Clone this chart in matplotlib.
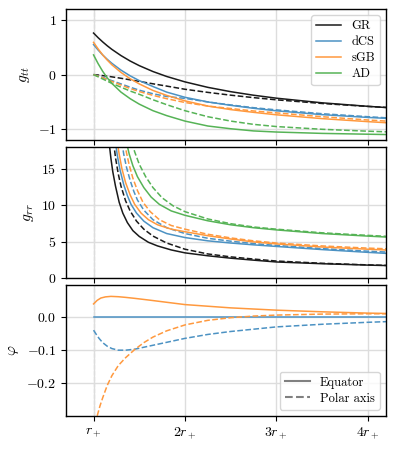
import matplotlib
matplotlib.use("Agg")
import matplotlib.pyplot as plt
from matplotlib.lines import Line2D

plt.rcParams['font.family'] = 'serif'
plt.rcParams['font.serif'] = ['cmr10']
plt.rcParams['mathtext.fontset'] = 'cm'
plt.rcParams['axes.formatter.use_mathtext'] = True

# ---------------- data ----------------
models = ['GR', 'dCS', 'sGB', 'AD']
colors = {'GR': '#1a1a1a', 'dCS': '#4c92c3', 'sGB': '#ff993e', 'AD': '#56b356'}

# g_tt, shared radial grid (in units of r_+)
r_tt = [1.0, 1.05, 1.1, 1.15, 1.2, 1.3, 1.4, 1.5, 1.65, 1.8, 2.0, 2.25, 2.5, 2.75, 3.0, 3.5, 4.0, 4.2]
gtt_eq = {
    'GR':  [0.76, 0.675, 0.598, 0.527, 0.462, 0.348, 0.249, 0.164, 0.056, -0.034, -0.133,
            -0.233, -0.312, -0.377, -0.431, -0.516, -0.58, -0.602],
    'dCS': [0.55, 0.449, 0.359, 0.279, 0.207, 0.082, -0.022, -0.11, -0.218, -0.32, -0.415,
            -0.50, -0.562, -0.616, -0.662, -0.732, -0.783, -0.80],
    'sGB': [0.59, 0.47, 0.36, 0.265, 0.18, 0.04, -0.075, -0.17, -0.29, -0.38, -0.48,
            -0.575, -0.64, -0.69, -0.735, -0.805, -0.86, -0.88],
    'AD':  [0.36, 0.20, 0.06, -0.06, -0.16, -0.32, -0.44, -0.54, -0.66, -0.75, -0.85,
            -0.94, -0.99, -1.03, -1.05, -1.075, -1.09, -1.096],
}
gtt_pol = {
    'GR':  [0.0, -0.008, -0.018, -0.029, -0.041, -0.067, -0.095, -0.124, -0.168, -0.21, -0.268,
            -0.325, -0.376, -0.421, -0.461, -0.528, -0.582, -0.60],
    'dCS': [0.0, -0.025, -0.05, -0.08, -0.11, -0.17, -0.23, -0.285, -0.35, -0.40, -0.435,
            -0.50, -0.555, -0.605, -0.645, -0.715, -0.77, -0.79],
    'sGB': [0.0, -0.03, -0.06, -0.09, -0.125, -0.19, -0.255, -0.31, -0.38, -0.44, -0.51,
            -0.575, -0.62, -0.665, -0.70, -0.77, -0.83, -0.85],
    'AD':  [0.0, -0.04, -0.08, -0.12, -0.16, -0.23, -0.30, -0.36, -0.46, -0.55, -0.66,
            -0.77, -0.85, -0.91, -0.95, -1.00, -1.035, -1.046],
}

# g_rr, each curve has its own radial samples (they leave the top of the panel)
grr_eq_r = {
    'GR':  [1.17, 1.19, 1.21, 1.24, 1.28, 1.32, 1.37, 1.43, 1.5, 1.6, 1.7, 1.85, 2.0, 2.25, 2.5, 2.75, 3.0, 3.5, 4.0, 4.2],
    'dCS': [1.24, 1.26, 1.29, 1.33, 1.37, 1.41, 1.47, 1.55, 1.65, 1.8, 2.0, 2.25, 2.5, 2.75, 3.0, 3.5, 4.0, 4.2],
    'sGB': [1.26, 1.28, 1.31, 1.35, 1.4, 1.45, 1.52, 1.6, 1.7, 1.85, 2.0, 2.25, 2.5, 2.75, 3.0, 3.5, 4.0, 4.2],
    'AD':  [1.36, 1.39, 1.43, 1.48, 1.55, 1.63, 1.72, 1.85, 2.0, 2.25, 2.5, 2.75, 3.0, 3.5, 4.0, 4.2],
}
grr_eq = {
    'GR':  [18.6, 16.4, 14.6, 12.6, 10.4, 8.9, 7.6, 6.5, 5.7, 4.9, 4.4, 3.85, 3.45, 3.05, 2.72, 2.45, 2.2, 1.96, 1.77, 1.71],
    'dCS': [18.6, 16.8, 14.8, 12.8, 11.3, 10.1, 8.9, 7.8, 6.9, 6.1, 5.55, 5.1, 4.8, 4.55, 4.33, 3.9, 3.52, 3.38],
    'sGB': [18.6, 17.0, 15.0, 13.1, 11.4, 10.1, 8.9, 8.0, 7.3, 6.7, 6.35, 5.8, 5.35, 4.95, 4.68, 4.25, 3.95, 3.84],
    'AD':  [18.6, 17.0, 15.4, 13.9, 12.4, 11.1, 10.1, 9.2, 8.6, 7.85, 7.3, 6.9, 6.6, 6.1, 5.75, 5.62],
}
grr_pol_r = {
    'GR':  [1.22, 1.24, 1.27, 1.3, 1.35, 1.4, 1.47, 1.55, 1.65, 1.8, 2.0, 2.25, 2.5, 2.75, 3.0, 3.5, 4.0, 4.2],
    'dCS': [1.31, 1.33, 1.36, 1.4, 1.44, 1.48, 1.55, 1.65, 1.8, 2.0, 2.25, 2.5, 2.75, 3.0, 3.5, 4.0, 4.2],
    'sGB': [1.34, 1.36, 1.39, 1.43, 1.48, 1.54, 1.62, 1.72, 1.85, 2.0, 2.25, 2.5, 2.75, 3.0, 3.5, 4.0, 4.2],
    'AD':  [1.42, 1.45, 1.5, 1.57, 1.65, 1.75, 1.87, 2.0, 2.25, 2.5, 2.75, 3.0, 3.5, 4.0, 4.2],
}
grr_pol = {
    'GR':  [18.6, 16.5, 14.3, 12.6, 10.6, 9.2, 7.8, 6.7, 5.75, 4.8, 3.95, 3.3, 2.9, 2.6, 2.33, 2.02, 1.8, 1.73],
    'dCS': [18.6, 17.0, 15.2, 13.4, 11.9, 10.7, 9.3, 8.0, 6.9, 6.1, 5.45, 5.05, 4.72, 4.47, 4.03, 3.68, 3.56],
    'sGB': [18.6, 17.2, 15.5, 13.7, 12.0, 10.4, 9.1, 8.0, 7.2, 6.7, 6.0, 5.5, 5.1, 4.8, 4.4, 4.1, 4.01],
    'AD':  [18.6, 17.3, 15.6, 13.9, 12.4, 11.0, 9.9, 9.1, 8.1, 7.45, 7.0, 6.7, 6.2, 5.85, 5.72],
}

# scalar field phi
phi_r_dcs_eq = [1.0, 4.2]
phi_dcs_eq = [0.0, 0.0]
phi_r_sgb_eq = [1.0, 1.04, 1.08, 1.13, 1.19, 1.27, 1.35, 1.45, 1.6, 1.8, 2.0, 2.25, 2.5, 3.0, 3.5, 4.0, 4.2]
phi_sgb_eq = [0.041, 0.052, 0.059, 0.0625, 0.064, 0.063, 0.061, 0.058, 0.053, 0.046, 0.039,
              0.034, 0.029, 0.022, 0.017, 0.013, 0.012]
phi_r_dcs_pol = [1.0, 1.03, 1.06, 1.1, 1.15, 1.2, 1.27, 1.35, 1.45, 1.55, 1.65, 1.8, 2.0, 2.25, 2.5, 3.0, 3.5, 4.0, 4.2]
phi_dcs_pol = [-0.039, -0.052, -0.064, -0.077, -0.088, -0.095, -0.1, -0.1, -0.097, -0.091, -0.085,
               -0.076, -0.064, -0.052, -0.043, -0.029, -0.021, -0.015, -0.013]
phi_r_sgb_pol = [1.04, 1.07, 1.1, 1.15, 1.2, 1.27, 1.35, 1.45, 1.55, 1.65, 1.8, 2.0, 2.25, 2.5, 2.75, 3.0, 3.5, 4.0, 4.2]
phi_sgb_pol = [-0.30, -0.27, -0.245, -0.207, -0.178, -0.147, -0.123, -0.098, -0.077, -0.06, -0.041,
               -0.023, -0.009, -0.001, 0.004, 0.007, 0.01, 0.011, 0.011]

xticks = [1, 2, 3, 4]
xticklabels = [r'$r_+$', r'$2r_+$', r'$3r_+$', r'$4r_+$']

# ---------------- figure ----------------
fig, axes = plt.subplots(3, 1, figsize=(3.96, 4.5), dpi=100, sharex=True)
fig.subplots_adjust(left=0.167, right=0.975, top=0.98, bottom=0.076, hspace=0.05)
ax1, ax2, ax3 = axes
lw = 1.1

for m in models:
    ax1.plot(r_tt, gtt_eq[m], color=colors[m], lw=lw, label=m)
    ax1.plot(r_tt, gtt_pol[m], color=colors[m], lw=lw, ls='--')
    ax2.plot(grr_eq_r[m], grr_eq[m], color=colors[m], lw=lw)
    ax2.plot(grr_pol_r[m], grr_pol[m], color=colors[m], lw=lw, ls='--')

ax3.plot(phi_r_dcs_eq, phi_dcs_eq, color=colors['dCS'], lw=lw)
ax3.plot(phi_r_sgb_eq, phi_sgb_eq, color=colors['sGB'], lw=lw)
ax3.plot(phi_r_dcs_pol, phi_dcs_pol, color=colors['dCS'], lw=lw, ls='--')
ax3.plot(phi_r_sgb_pol, phi_sgb_pol, color=colors['sGB'], lw=lw, ls='--')

ax1.set_ylim(-1.2, 1.2)
ax1.set_yticks([-1, 0, 1])
ax2.set_ylim(0, 18)
ax2.set_yticks([0, 5, 10, 15])
ax3.set_ylim(-0.3, 0.1)
ax3.set_yticks([-0.2, -0.1, 0.0])
ax3.set_yticklabels(['$-0.2$', '$-0.1$', '$0.0$'])

ax1.set_ylabel(r'$g_{tt}$', fontsize=11)
ax2.set_ylabel(r'$g_{rr}$', fontsize=11)
ax3.set_ylabel(r'$\varphi$', fontsize=11)

for ax in axes:
    ax.axvline(1.0, color='gray', ls='--', lw=0.8, zorder=0)
    ax.grid(True, color='#dddddd', lw=1.0)
    ax.set_axisbelow(True)
    ax.tick_params(labelsize=10)
    for s in ax.spines.values():
        s.set_linewidth(1.0)

ax3.set_xlim(0.7, 4.2)
ax3.set_xticks(xticks)
ax3.set_xticklabels(xticklabels)

ax1.legend(loc='upper right', fontsize=9, framealpha=0.8, handlelength=2.0,
           labelspacing=0.3)

style_handles = [Line2D([], [], color='gray', lw=1.5, ls='-'),
                 Line2D([], [], color='gray', lw=1.5, ls='--')]
ax3.legend(style_handles, ['Equator', 'Polar axis'], loc='lower right', fontsize=9,
           framealpha=0.8, handlelength=2.0, labelspacing=0.3)

fig.savefig('out.png', dpi=100)
